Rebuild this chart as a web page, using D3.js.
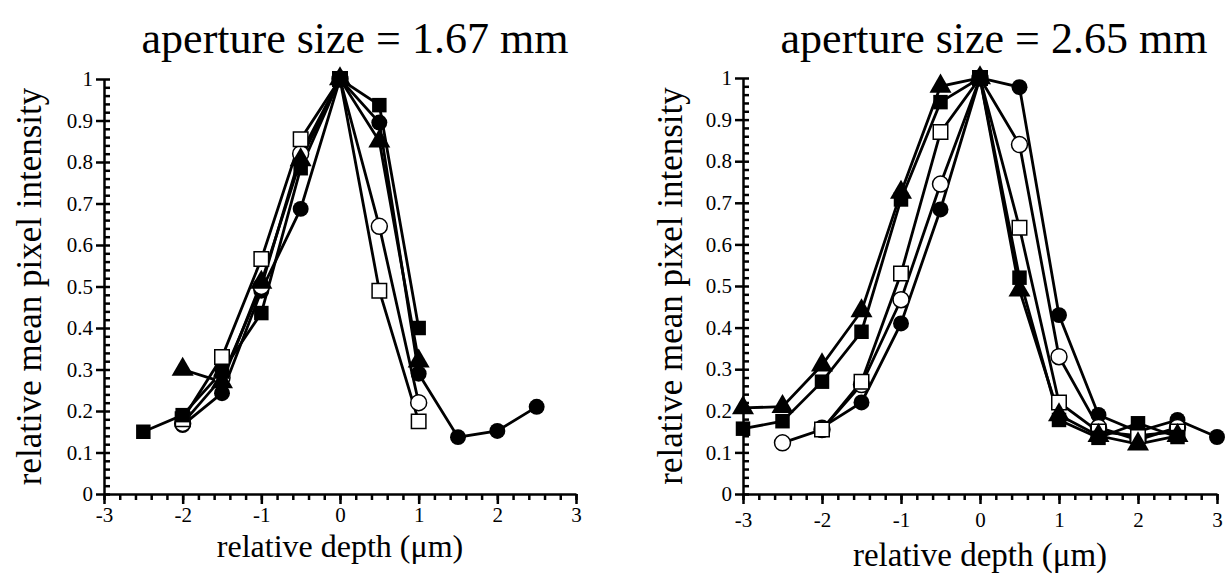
<!DOCTYPE html>
<html>
  <head>
    <meta charset="utf-8" />
    <script src="https://d3js.org/d3.v7.min.js"></script>
    <style>
      body { margin: 0; background: #fff; }
    </style>
  </head>
  <body>
    <svg id="viz" width="1230" height="575"></svg>
    <script>
      // depths (um) for each panel
      var depthsA = [-2.5, -2, -1.5, -1, -0.5, 0, 0.5, 1, 1.5, 2, 2.5];
      var depthsB = [-3, -2.5, -2, -1.5, -1, -0.5, 0, 0.5, 1, 1.5, 2, 2.5, 3];

      // aperture 1.67 mm
      var a_fillSquare   = [0.15, 0.19, 0.295, 0.436, 0.785, 1, 0.937, 0.40, null, null, null];
      var a_fillCircle   = [null, 0.166, 0.243, 0.49, 0.687, 1, 0.895, 0.29, 0.137, 0.152, 0.21];
      var a_openCircle   = [null, 0.17, 0.28, 0.50, 0.82, 1, 0.645, 0.22, null, null, null];
      var a_openSquare   = [null, 0.18, 0.33, 0.566, 0.855, 1, 0.49, 0.175, null, null, null];
      var a_fillTriangle = [null, 0.30, 0.27, 0.51, 0.805, 1, 0.85, 0.32, null, null, null];

      // aperture 2.65 mm
      var b_fillTriangle = [0.207, 0.21, 0.31, 0.44, 0.725, 0.98, 1, 0.49, 0.19, 0.14, 0.12, 0.14, null];
      var b_fillSquare   = [0.157, 0.175, 0.27, 0.39, 0.708, 0.942, 1, 0.52, 0.178, 0.135, 0.17, 0.137, null];
      var b_openSquare   = [null, null, 0.155, 0.27, 0.53, 0.87, 1, 0.64, 0.22, 0.15, 0.14, 0.15, null];
      var b_openCircle   = [null, 0.123, 0.155, 0.263, 0.467, 0.745, 1, 0.84, 0.33, 0.16, 0.13, 0.16, null];
      var b_fillCircle   = [null, null, 0.16, 0.22, 0.41, 0.684, 1, 0.978, 0.43, 0.19, 0.15, 0.178, 0.137];

      var xTicks = [-3, -2, -1, 0, 1, 2, 3];
      var yTicks = [0, 0.1, 0.2, 0.3, 0.4, 0.5, 0.6, 0.7, 0.8, 0.9, 1];

      var FONT = "'Liberation Serif', 'DejaVu Serif', serif";

      var panels = [
        { title: "aperture size = 1.67 mm", left: 104, right: 576, top: 79, bottom: 494,
          titleX: 355, titleY: 53, tickPad: 3, xlabY: 557, xlabSize: 32, ylabX: 41, depths: depthsA,
          series: [
            { v: a_fillCircle, shape: "circle", fill: true },
            { v: a_openCircle, shape: "circle", fill: false },
            { v: a_openSquare, shape: "square", fill: false },
            { v: a_fillTriangle, shape: "triangle", fill: true },
            { v: a_fillSquare, shape: "square", fill: true }
          ] },
        { title: "aperture size = 2.65 mm", left: 743, right: 1217, top: 78, bottom: 494,
          titleX: 994, titleY: 53, tickPad: 8, xlabY: 566, xlabSize: 33, ylabX: 682, depths: depthsB,
          series: [
            { v: b_fillCircle, shape: "circle", fill: true },
            { v: b_openCircle, shape: "circle", fill: false },
            { v: b_openSquare, shape: "square", fill: false },
            { v: b_fillTriangle, shape: "triangle", fill: true },
            { v: b_fillSquare, shape: "square", fill: true }
          ] }
      ];

      var svg = d3.select("#viz");

      var symbols = {
        circle: d3.symbol().type(d3.symbolCircle).size(200),
        square: d3.symbol().type(d3.symbolSquare).size(210),
        triangle: d3.symbol().type(d3.symbolTriangle).size(210)
      };

      panels.forEach(function(p) {
        var x = d3.scaleLinear().domain([-3, 3]).range([p.left, p.right]);
        var y = d3.scaleLinear().domain([0, 1]).range([p.bottom, p.top]);
        var g = svg.append("g");

        // title
        g.append("text")
          .attr("x", p.titleX)
          .attr("y", p.titleY)
          .attr("text-anchor", "middle")
          .style("font-family", FONT)
          .style("font-size", "44px")
          .text(p.title);

        // minor ticks
        g.append("g")
          .attr("transform", "translate(0," + p.bottom + ")")
          .call(d3.axisBottom(x).tickValues(d3.range(-3, 3.01, 0.2)).tickSize(6).tickFormat(""))
          .call(function(s) { s.select(".domain").remove(); });
        g.append("g")
          .attr("transform", "translate(" + p.left + ",0)")
          .call(d3.axisRight(y).tickValues(d3.range(0, 1.001, 0.02)).tickSize(6).tickFormat(""))
          .call(function(s) { s.select(".domain").remove(); });

        // major axes
        var xa = g.append("g")
          .attr("transform", "translate(0," + p.bottom + ")")
          .call(d3.axisBottom(x).tickValues(xTicks).tickSize(10).tickSizeOuter(0).tickPadding(p.tickPad)
            .tickFormat(function(d) { return String(d); }));
        var ya = g.append("g")
          .attr("transform", "translate(" + p.left + ",0)")
          .call(d3.axisLeft(y).tickValues(yTicks).tickSize(8).tickSizeOuter(0).tickPadding(3)
            .tickFormat(function(d) { return String(d); }));

        [xa, ya].forEach(function(a) {
          a.attr("font-family", null);
          a.selectAll("text")
            .style("font-family", FONT)
            .style("font-size", "21px")
            .attr("fill", "#000");
        });
        g.selectAll(".domain, .tick line").attr("stroke", "#000").attr("stroke-width", 2.5);

        // axis labels
        g.append("text")
          .attr("x", (p.left + p.right) / 2)
          .attr("y", p.xlabY)
          .attr("text-anchor", "middle")
          .style("font-family", FONT)
          .style("font-size", p.xlabSize + "px")
          .text("relative depth (\u03bcm)");
        g.append("text")
          .attr("transform", "translate(" + p.ylabX + "," + ((p.top + p.bottom) / 2) + ") rotate(-90)")
          .attr("text-anchor", "middle")
          .style("font-family", FONT)
          .style("font-size", "35px")
          .text("relative mean pixel intensity");

        var line = d3.line()
          .x(function(d) { return x(d[0]); })
          .y(function(d) { return y(d[1]); });

        p.series.forEach(function(s) {
          var pts = p.depths.map(function(d, i) { return [d, s.v[i]]; })
            .filter(function(d) { return d[1] != null; });
          g.append("path")
            .attr("d", line(pts))
            .attr("fill", "none")
            .attr("stroke", "#000")
            .attr("stroke-width", 2.8);
        });

        p.series.forEach(function(s) {
          var pts = p.depths.map(function(d, i) { return [d, s.v[i]]; })
            .filter(function(d) { return d[1] != null; });
          g.selectAll(null)
            .data(pts)
            .enter().append("path")
            .attr("d", symbols[s.shape])
            .attr("transform", function(d) { return "translate(" + x(d[0]) + "," + y(d[1]) + ")"; })
            .attr("fill", s.fill ? "#000" : "#fff")
            .attr("stroke", "#000")
            .attr("stroke-width", s.fill ? 0 : 1.5);
        });
      });
    </script>
  </body>
</html>
